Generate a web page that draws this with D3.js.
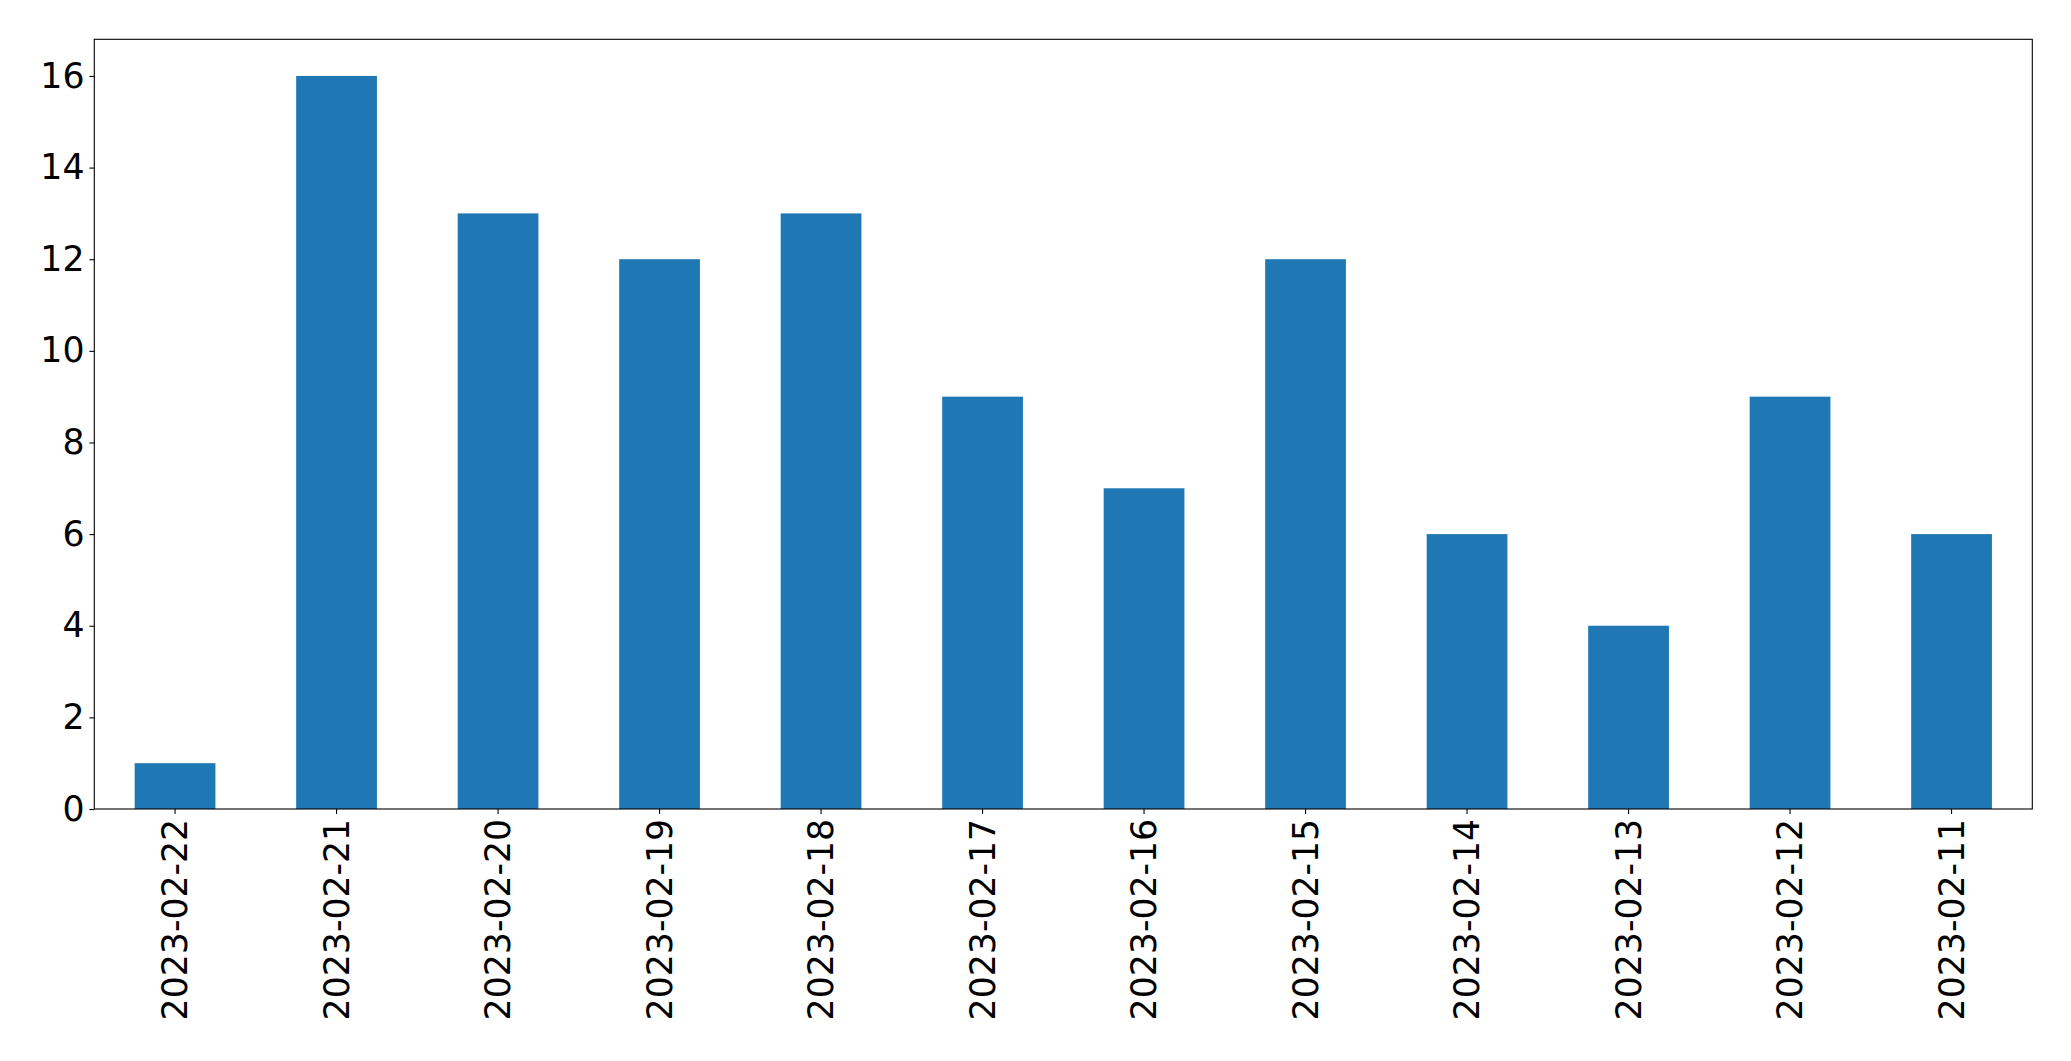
<!DOCTYPE html>
<html>
<head>
<meta charset="utf-8">
<script src="https://cdn.jsdelivr.net/npm/d3@7"></script>
<style>
html, body { margin: 0; padding: 0; background: #fff; }
svg { display: block; }
text { font-family: "DejaVu Sans", sans-serif; }
</style>
</head>
<body>
<script>
const categories = ["2023-02-22","2023-02-21","2023-02-20","2023-02-19","2023-02-18","2023-02-17","2023-02-16","2023-02-15","2023-02-14","2023-02-13","2023-02-12","2023-02-11"];
const values = [1, 16, 13, 12, 13, 9, 7, 12, 6, 4, 9, 6];
const yTicks = [0, 2, 4, 6, 8, 10, 12, 14, 16];

const W = 2071, H = 1061;
const mLeft = 94.3, mRight = 2032.3, mTop = 39.3, mBottom = 809;

const svg = d3.select("body").append("svg").attr("width", W).attr("height", H);

const x = d3.scaleBand().domain(categories).range([mLeft, mRight]).paddingInner(0.5).paddingOuter(0.25);
const y = d3.scaleLinear().domain([0, 16.8]).range([mBottom, mTop]);

svg.append("g").selectAll("rect").data(values).join("rect")
  .attr("x", (d, i) => x(categories[i]))
  .attr("width", x.bandwidth())
  .attr("y", d => y(d))
  .attr("height", d => y(0) - y(d))
  .attr("fill", "#1f77b4");

const fs = 34.7;

// y axis
const yAxis = svg.append("g").attr("transform", `translate(${mLeft},0)`)
  .call(d3.axisLeft(y).tickValues(yTicks).tickFormat(d3.format("d")).tickSize(4.9).tickPadding(4.9));
yAxis.select(".domain").remove();
yAxis.selectAll(".tick line").attr("stroke", "#000").attr("stroke-width", 1.1);
yAxis.selectAll(".tick text").attr("font-size", fs).attr("fill", "#000").attr("font-family", "DejaVu Sans");

// x axis
const xAxis = svg.append("g").attr("transform", `translate(0,${mBottom})`)
  .call(d3.axisBottom(x).tickSize(4.9).tickPadding(0));
xAxis.select(".domain").remove();
xAxis.selectAll(".tick line").attr("stroke", "#000").attr("stroke-width", 1.1);
xAxis.selectAll(".tick text")
  .attr("font-size", fs).attr("fill", "#000").attr("font-family", "DejaVu Sans")
  .attr("text-anchor", "end")
  .attr("dy", null)
  .attr("dominant-baseline", "central")
  .attr("transform", "translate(0,9.8) rotate(-90)")
  .attr("x", 0).attr("y", 0);

// frame
svg.append("rect").attr("x", mLeft).attr("y", mTop)
  .attr("width", mRight - mLeft).attr("height", mBottom - mTop)
  .attr("fill", "none").attr("stroke", "#000").attr("stroke-width", 1.1);
</script>
</body>
</html>
